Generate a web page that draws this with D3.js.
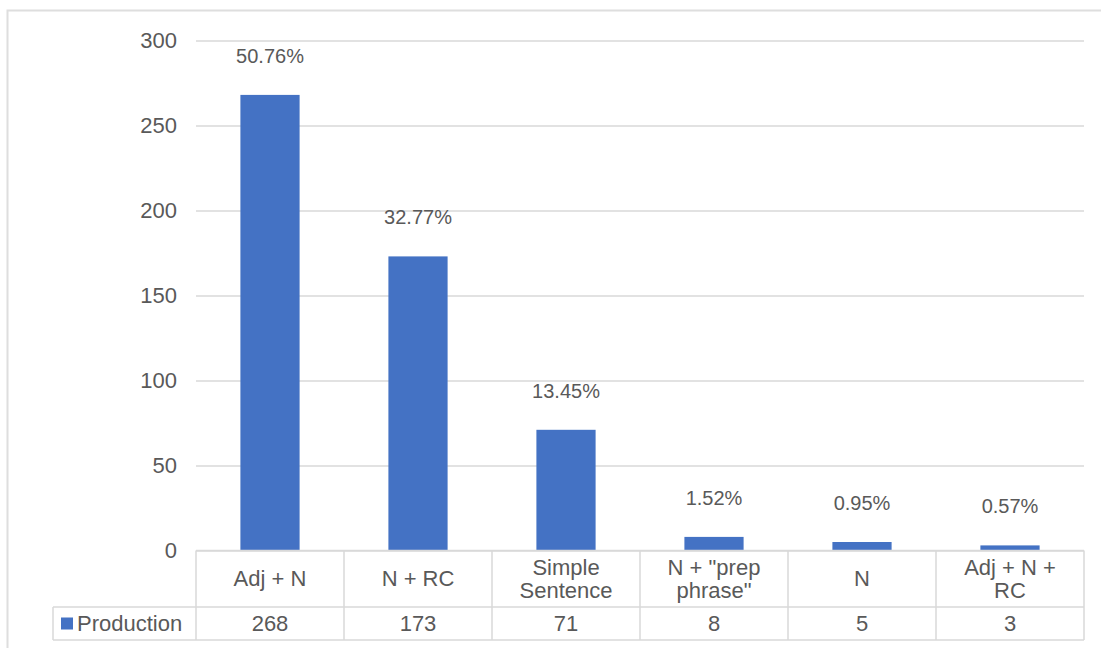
<!DOCTYPE html>
<html>
<head>
<meta charset="utf-8">
<script src="https://cdn.jsdelivr.net/npm/d3@7"></script>
<style>
  html, body { margin: 0; padding: 0; background: #fff; }
  svg { display: block; }
  text { font-family: "Liberation Sans", Arial, sans-serif; fill: #595959; }
</style>
</head>
<body>
<svg id="chart" width="1101" height="648"></svg>
<script>
// Structure types and how often each was produced
const categories = ["Adj + N", "N + RC", "Simple Sentence", "N + \"prep phrase\"", "N", "Adj + N + RC"];
const categoryLines = [["Adj + N"], ["N + RC"], ["Simple", "Sentence"], ["N + \"prep", "phrase\""], ["N"], ["Adj + N +", "RC"]];
const production = [268, 173, 71, 8, 5, 3];
const seriesName = "Production";
const yTicks = [0, 50, 100, 150, 200, 250, 300];

const total = d3.sum(production);
const shares = production.map(v => v / total);

const svg = d3.select("#chart");
const W = 1101, H = 648;
const plot = { left: 196, right: 1084, top: 40.5, bottom: 550.5 };
const tableRow1 = 607, tableRow2 = 640, legendLeft = 53;
const gridColor = "#d9d9d9";
const barColor = "#4472c4";
const fontSize = 22;

// Outer chart frame
svg.append("rect")
  .attr("x", 7.5).attr("y", 10.5)
  .attr("width", W + 20).attr("height", H + 20)
  .attr("fill", "none").attr("stroke", "#dedede").attr("stroke-width", 2);

const y = d3.scaleLinear().domain([0, 300]).range([plot.bottom, plot.top]);
const xBar = d3.scaleBand().domain(categories).range([plot.left, plot.right])
  .paddingInner(0.6).paddingOuter(0.3);
const xCol = d3.scaleBand().domain(categories).range([plot.left, plot.right]).padding(0);

// Horizontal gridlines and value axis labels
const yAxis = d3.axisLeft(y).tickValues(yTicks).tickSize(-(plot.right - plot.left)).tickPadding(19);
const gy = svg.append("g").attr("transform", `translate(${plot.left},0)`).call(yAxis);
gy.select(".domain").remove();
gy.selectAll(".tick line").attr("stroke", gridColor).attr("stroke-width", 1.3);
gy.selectAll(".tick text")
  .attr("font-size", fontSize).attr("fill", "#595959")
  .style("font-family", "'Liberation Sans', Arial, sans-serif");

// Bars
svg.append("g").selectAll("rect")
  .data(categories)
  .join("rect")
  .attr("x", d => xBar(d))
  .attr("y", (d, i) => y(production[i]))
  .attr("width", xBar.bandwidth())
  .attr("height", (d, i) => y(0) - y(production[i]))
  .attr("fill", barColor);

// Share labels above bars
svg.append("g").selectAll("text")
  .data(categories)
  .join("text")
  .attr("x", d => xBar(d) + xBar.bandwidth() / 2)
  .attr("y", (d, i) => y(production[i]) - 39)
  .attr("text-anchor", "middle")
  .attr("dominant-baseline", "central")
  .attr("font-size", 20)
  .attr("fill", "#404040")
  .text((d, i) => (shares[i] * 100).toFixed(2) + "%");

// Data table grid
const tg = svg.append("g").attr("stroke", gridColor).attr("stroke-width", 1.5).attr("fill", "none");
tg.append("line").attr("x1", plot.left).attr("x2", plot.right).attr("y1", plot.bottom).attr("y2", plot.bottom);
tg.append("line").attr("x1", legendLeft).attr("x2", plot.right).attr("y1", tableRow1).attr("y2", tableRow1);
tg.append("line").attr("x1", legendLeft).attr("x2", plot.right).attr("y1", tableRow2).attr("y2", tableRow2);
tg.append("line").attr("x1", legendLeft).attr("x2", legendLeft).attr("y1", tableRow1).attr("y2", tableRow2);
const colEdges = categories.map(c => xCol(c)).concat([plot.right]);
tg.selectAll("line.col")
  .data(colEdges)
  .join("line")
  .attr("class", "col")
  .attr("x1", d => d).attr("x2", d => d)
  .attr("y1", plot.bottom).attr("y2", tableRow2);

// Category headers
const headerMid = (plot.bottom + tableRow1) / 2;
const lineH = 23;
const headers = svg.append("g").selectAll("text")
  .data(categories)
  .join("text")
  .attr("text-anchor", "middle")
  .attr("font-size", fontSize);
headers.each(function (d, i) {
  const lines = categoryLines[i];
  const t = d3.select(this);
  lines.forEach((ln, k) => {
    t.append("tspan")
      .attr("x", xCol(d) + xCol.bandwidth() / 2)
      .attr("y", headerMid + (k - (lines.length - 1) / 2) * lineH)
      .attr("dominant-baseline", "central")
      .text(ln);
  });
});

// Values row
const valueMid = (tableRow1 + tableRow2) / 2;
svg.append("g").selectAll("text")
  .data(categories)
  .join("text")
  .attr("x", d => xCol(d) + xCol.bandwidth() / 2)
  .attr("y", valueMid)
  .attr("text-anchor", "middle")
  .attr("dominant-baseline", "central")
  .attr("font-size", fontSize)
  .text((d, i) => production[i]);

// Legend key in the table
svg.append("rect")
  .attr("x", 61).attr("y", valueMid - 6).attr("width", 12).attr("height", 12)
  .attr("fill", barColor);
svg.append("text")
  .attr("x", 77).attr("y", valueMid)
  .attr("dominant-baseline", "central")
  .attr("font-size", fontSize)
  .text(seriesName);
</script>
</body>
</html>
